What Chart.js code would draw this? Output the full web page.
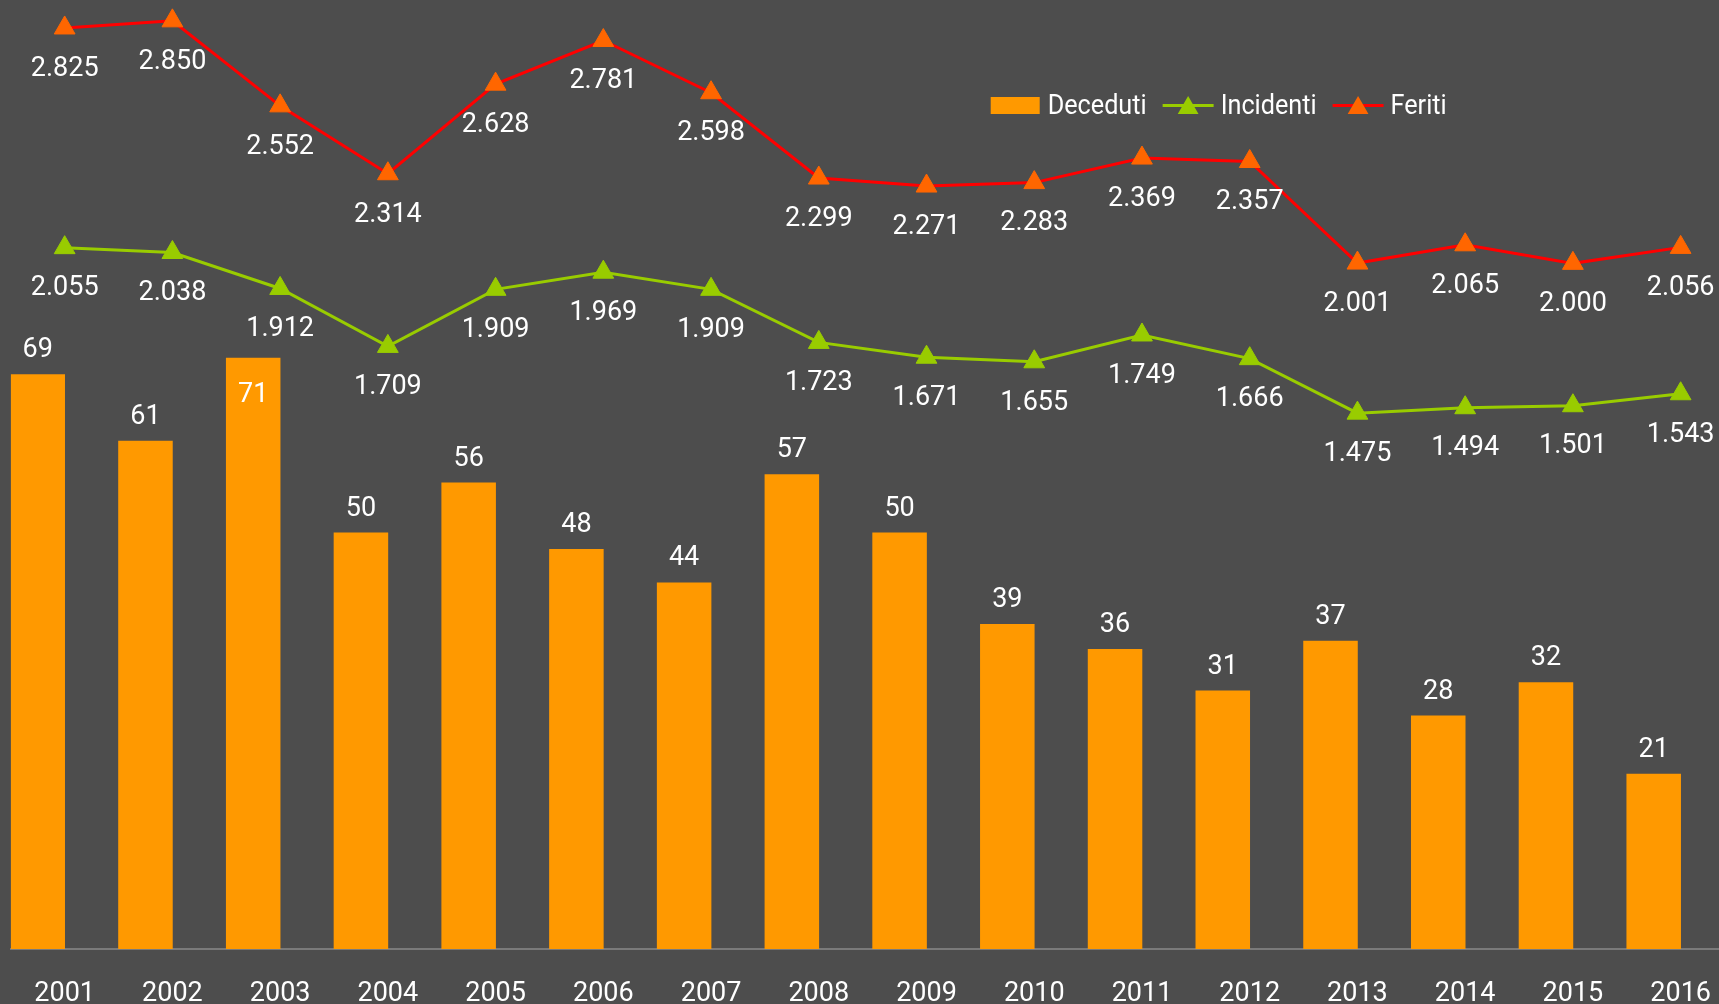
<!DOCTYPE html>
<html>
<head>
<meta charset="utf-8">
<script src="https://cdn.jsdelivr.net/npm/chart.js@4.4.0/dist/chart.umd.min.js"></script>
<style>
  html, body { margin: 0; padding: 0; background: #4d4d4d; overflow: hidden; }
  canvas { display: block; }
</style>
</head>
<body>
<canvas id="grafico" width="1745" height="1039"></canvas>
<script>
// DATI
const anni = ["2001", "2002", "2003", "2004", "2005", "2006", "2007", "2008",
  "2009", "2010", "2011", "2012", "2013", "2014", "2015", "2016"];
const deceduti = [69, 61, 71, 50, 56, 48, 44, 57, 50, 39, 36, 31, 37, 28, 32, 21];
const incidenti = [2055, 2038, 1912, 1709, 1909, 1969, 1909, 1723, 1671, 1655, 1749, 1666, 1475, 1494, 1501, 1543];
const feriti = [2825, 2850, 2552, 2314, 2628, 2781, 2598, 2299, 2271, 2283, 2369, 2357, 2001, 2065, 2000, 2056];
const vuoto = anni.map(() => null);

const FONT = "Roboto";

function formatta(v) {
  return String(v).replace(/\B(?=(\d{3})+(?!\d))/g, ".");
}

// sfondo
const sfondo = {
  id: "sfondo",
  beforeDraw(chart) {
    const ctx = chart.ctx;
    ctx.save();
    ctx.fillStyle = "#4d4d4d";
    ctx.fillRect(0, 0, chart.width, chart.height);
    ctx.restore();
  },
};

// etichette dei valori
const etichette = {
  id: "etichette",
  afterDatasetsDraw(chart, args, opts) {
    const ctx = chart.ctx;
    ctx.save();
    ctx.font = "27px " + FONT;
    ctx.fillStyle = "#ffffff";
    ctx.textAlign = "center";
    ctx.textBaseline = "middle";
    chart.data.datasets.forEach((ds, i) => {
      if (!ds.etichette) return;
      const meta = chart.getDatasetMeta(i);
      meta.data.forEach((el, j) => {
        const v = ds.data[j];
        if (v == null) return;
        let y;
        if (ds.type === "bar") {
          y = opts.dentro.includes(j) ? el.y + 37 : el.y - 24;
        } else {
          y = el.y + 41;
        }
        ctx.fillText(formatta(v), el.x, y);
      });
    });
    ctx.restore();
  },
};

// legenda dentro il grafico (Deceduti, Incidenti, Feriti)
const legenda = {
  id: "legenda",
  afterDraw(chart, args, opts) {
    const ctx = chart.ctx;
    ctx.save();
    ctx.font = "28px " + FONT;
    ctx.textBaseline = "middle";
    ctx.textAlign = "left";
    let x = opts.x;
    const y = opts.y;
    const lista = chart.data.datasets.slice().reverse();
    lista.forEach((ds) => {
      if (ds.nascosto) return;
      if (ds.type === "bar") {
        ctx.fillStyle = ds.backgroundColor;
        ctx.fillRect(x, y - 10, 49, 17);
        x += 49 + 8;
      } else {
        ctx.strokeStyle = ds.borderColor;
        ctx.lineWidth = 3;
        ctx.beginPath();
        ctx.moveTo(x, y - 1.5);
        ctx.lineTo(x + 51, y - 1.5);
        ctx.stroke();
        ctx.fillStyle = ds.pointBackgroundColor;
        const r = 12;
        const cx = x + 25.5;
        const cy = y + 1;
        ctx.beginPath();
        ctx.moveTo(cx, cy - r);
        ctx.lineTo(cx + r * 0.866, cy + r / 2);
        ctx.lineTo(cx - r * 0.866, cy + r / 2);
        ctx.closePath();
        ctx.fill();
        x += 51 + 7;
      }
      // testo un po' stretto, come nell'originale
      const w = ctx.measureText(ds.label).width * opts.stretto;
      ctx.save();
      ctx.translate(x, y);
      ctx.scale(opts.stretto, 1);
      ctx.fillStyle = "#ffffff";
      ctx.fillText(ds.label, 0, 0);
      ctx.restore();
      x += w + 16;
    });
    ctx.restore();
  },
};

const CANVAS = document.querySelector("#grafico");

let grafico = new Chart(CANVAS, {
  data: {
    labels: anni,
    datasets: [
      {
        type: "line",
        label: "Feriti",
        data: feriti,
        yAxisID: "y2",
        borderColor: "#ff0000",
        borderWidth: 3,
        pointStyle: "triangle",
        pointRadius: 12,
        pointBackgroundColor: "#ff6600",
        pointBorderColor: "#ff6600",
        pointBorderWidth: 1,
        clip: false,
        order: 0,
        etichette: true,
      },
      {
        type: "line",
        label: "Incidenti",
        data: incidenti,
        yAxisID: "y2",
        borderColor: "#99cc00",
        borderWidth: 3,
        pointStyle: "triangle",
        pointRadius: 12,
        pointBackgroundColor: "#99cc00",
        pointBorderColor: "#99cc00",
        pointBorderWidth: 1,
        clip: false,
        order: 1,
        etichette: true,
      },
      {
        type: "bar",
        label: "Deceduti",
        data: deceduti,
        yAxisID: "y",
        backgroundColor: "#ff9900",
        categoryPercentage: 1,
        barPercentage: 1,
        order: 2,
        etichette: true,
      },
      {
        type: "bar",
        label: "",
        data: vuoto,
        yAxisID: "y",
        backgroundColor: "#ff9900",
        categoryPercentage: 1,
        barPercentage: 1,
        order: 3,
        nascosto: true,
      },
    ],
  },
  options: {
    responsive: false,
    animation: false,
    layout: {
      autoPadding: false,
      padding: { left: 10.8, right: 10.5, top: 0, bottom: 0 },
    },
    scales: {
      x: {
        offset: true,
        grid: { display: false, drawTicks: false, tickLength: 0 },
        border: { display: true, color: "#7a7a7a", width: 2 },
        ticks: {
          color: "#ffffff",
          padding: 31.5,
          maxRotation: 0,
          autoSkip: false,
          font: { family: FONT, size: 27, lineHeight: 1 },
        },
      },
      y: {
        display: false,
        min: 0,
        max: 114,
      },
      y2: {
        display: false,
        min: -403,
        max: 2923,
      },
    },
    plugins: {
      legend: { display: false },
      tooltip: { enabled: false },
      etichette: { dentro: [2] },
      legenda: { x: 990.7, y: 107, stretto: 0.9 },
    },
  },
  plugins: [sfondo, etichette, legenda],
});
</script>
</body>
</html>
